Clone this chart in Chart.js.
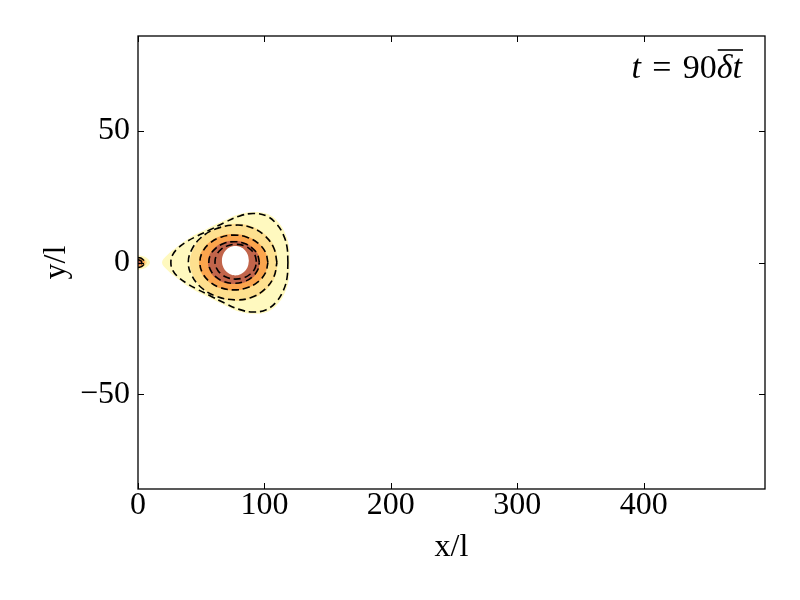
<!DOCTYPE html>
<html><head><meta charset="utf-8">
<script src="https://cdn.jsdelivr.net/npm/chart.js@4.4.0/dist/chart.umd.min.js"></script>
<style>html,body{margin:0;padding:0;background:#fff}</style>
</head><body>
<canvas id="c" width="800" height="600"></canvas>
<script>
// ---- data ----
const xTicks = [0, 100, 200, 300, 400];
const yTicks = [-50, 0, 50];
const xLimits = [0, 496];
const yLimits = [-86, 86];
const xLabel = 'x/l';
const yLabel = 'y/l';
const annotationParts = [['t', 'italic'], ['\u2004=\u200490', 'normal'], ['δt', 'italic']];

// filled contour regions (outer -> inner), points [x, y]
const fillPale = [[120.2,0],[119.5,6],[116.5,11],[111,15.3],[103,18.3],[92,19.2],[80,18.3],[68.5,16],[55,12.9],[42,9.7],[31,6],[23,2.8],[19,0],[23,-2.8],[31,-6],[42,-9.8],[55,-13],[68.5,-16.2],[80,-18.6],[92,-19.5],[103,-18.6],[111,-15.5],[116.5,-11.1],[119.5,-6],[120.2,0]];
const fillLight = [[110.7,0],[108.3,5.6],[101.2,10.4],[90.6,13.6],[78,14.7],[62.5,13.2],[50.5,9.6],[43.5,4.8],[41.1,0],[43.5,-4.8],[50.5,-9.5],[62.5,-13.1],[78,-14.6],[90.6,-13.6],[101.2,-10.4],[108.3,-5.6],[110.7,0]];
const fillOrange = [[102.8,0],[100.7,4.14],[94.8,7.64],[86,9.98],[75.5,10.8],[65,9.98],[56.2,7.64],[50.3,4.14],[48.2,0],[50.3,-4.1],[56.2,-7.5],[65,-9.8],[75.5,-10.6],[86,-9.8],[94.8,-7.5],[100.7,-4.1],[102.8,0]];
const fillBrown = [[96.4,0],[94.8,3.18],[90.4,5.87],[83.7,7.67],[75.9,8.3],[68,7.67],[61.3,5.87],[56.9,3.18],[55.3,0],[56.9,-3.18],[61.3,-5.87],[68,-7.67],[75.9,-8.2],[83.7,-7.67],[90.4,-5.87],[94.8,-3.18],[96.4,0]];
const fillHole = [[87.7,0.7],[86.9,2.84],[84.6,4.66],[81.1,5.87],[77.05,6.3],[73,5.87],[69.5,4.66],[67.2,2.84],[66.4,0.7],[67.2,-1.44],[69.5,-3.26],[73,-4.47],[77.05,-4.9],[81.1,-4.47],[84.6,-3.26],[86.9,-1.44],[87.7,0.7]];
// small blob at the left edge
const blobPale = [[0,2.8],[3.5,2.5],[7,1.7],[9.5,0],[7,-1.7],[3.5,-2.5],[0,-2.8]];
const blobLight = [[0,2.2],[3,1.9],[5.5,1.1],[7,0],[5.5,-1.1],[3,-1.9],[0,-2.2]];
const blobOrange = [[0,1.8],[2.5,1.5],[4.6,0.8],[5.5,0],[4.6,-0.8],[2.5,-1.5],[0,-1.8]];
const blobBrown = [[0,1.0],[1.8,0.8],[2.8,0],[1.8,-0.8],[0,-1.0]];

// dashed contour lines
const line1 = [[118.6,0],[117.9,5.8],[115,10.5],[109.5,14.7],[101.5,17.7],[91,18.6],[80,17.6],[68.5,15.2],[57,12.4],[47,10.1],[38.5,7.9],[31.5,5.4],[27.3,2.8],[26,0],[27.3,-2.8],[31.5,-5.4],[38.5,-7.9],[47,-10.2],[57,-12.6],[68.5,-15.4],[80,-17.8],[91,-18.8],[101.5,-17.9],[109.5,-14.9],[115,-10.6],[117.9,-5.8],[118.6,0]];
const line2 = [[109.9,0],[107.5,5.4],[100.4,10.1],[90,13.2],[77.5,14.2],[61.8,12.8],[49.5,9.3],[42.2,4.6],[39.8,0],[42.2,-4.6],[49.5,-9.3],[61.8,-12.8],[77.5,-14.2],[90,-13.2],[100.4,-10.1],[107.5,-5.4],[109.9,0]];
const line3 = [[102.8,0],[100.8,3.98],[94.9,7.35],[86.2,9.61],[75.9,10.4],[65.6,9.61],[56.9,7.35],[51,3.98],[49,0],[51,-3.98],[56.9,-7.35],[65.6,-9.61],[75.9,-10.4],[86.2,-9.61],[94.9,-7.35],[100.8,-3.98],[102.8,0]];
const line4 = [[96,0],[94.5,3.03],[90.1,5.59],[83.7,7.3],[76,7.9],[68.3,7.3],[61.9,5.59],[57.5,3.03],[56,0],[57.5,-3.03],[61.9,-5.59],[68.3,-7.3],[76,-7.9],[83.7,-7.3],[90.1,-5.59],[94.5,-3.03],[96,0]];
const line5 = [[93.7,0.3],[92.5,2.83],[88.9,4.97],[83.6,6.4],[77.3,6.9],[71,6.4],[65.7,4.97],[62.2,2.83],[60.9,0.3],[62.2,-2.23],[65.7,-4.37],[71,-5.8],[77.3,-6.3],[83.6,-5.8],[88.9,-4.37],[92.5,-2.23],[93.7,0.3]];
const blobLine1 = [[0,1.9],[3,1.5],[5.3,0],[3,-1.5],[0,-1.9]];
const blobLine2 = [[0,1.1],[2.2,0.7],[3,0],[2.2,-0.7],[0,-1.1]];

// ---- styles ----
const C_PALE = '#fff9bf', C_LIGHT = '#fee08f', C_ORANGE = '#fba54d', C_BROWN = '#c2654b';
const SERIF = '"Liberation Serif", "Times New Roman", serif';
const FS = 32;

const toXY = pts => pts.map(p => ({x: p[0], y: p[1]}));
function region(pts, color, order) {
  return {type: 'line', data: toXY(pts), backgroundColor: color, borderColor: 'rgba(0,0,0,0)',
    borderWidth: 0, fill: 'shape', tension: 0.4, pointRadius: 0, order};
}
function dashed(pts, order) {
  return {type: 'line', data: toXY(pts), borderColor: '#000', borderWidth: 1.6, borderDash: [7, 4],
    fill: false, tension: 0.4, pointRadius: 0, order};
}

const datasets = [
  region(fillPale, C_PALE, 20), region(fillLight, C_LIGHT, 19), region(fillOrange, C_ORANGE, 18),
  region(fillBrown, C_BROWN, 17), region(fillHole, '#ffffff', 16),
  region(blobPale, C_PALE, 15), region(blobLight, C_LIGHT, 14), region(blobOrange, C_ORANGE, 13),
  region(blobBrown, C_BROWN, 12),
  dashed(line1, 5), dashed(line2, 5), dashed(line3, 5), dashed(line4, 5), dashed(line5, 5),
  dashed(blobLine1, 5), dashed(blobLine2, 5)
];

const framePlugin = {
  id: 'frame',
  afterDatasetsDraw(chart) {
    const {ctx, chartArea: a, scales: {x, y}} = chart;
    ctx.save();
    ctx.strokeStyle = '#000';
    ctx.lineWidth = 1.3;
    ctx.strokeRect(a.left, a.top, a.right - a.left, a.bottom - a.top);
    ctx.lineWidth = 1;
    const tl = 6;
    ctx.beginPath();
    xTicks.forEach(v => {
      const px = Math.round(x.getPixelForValue(v)) + 0.5;
      ctx.moveTo(px, a.bottom); ctx.lineTo(px, a.bottom - tl);
      ctx.moveTo(px, a.top); ctx.lineTo(px, a.top + tl);
    });
    yTicks.forEach(v => {
      const py = Math.round(y.getPixelForValue(v)) + 0.5;
      ctx.moveTo(a.left, py); ctx.lineTo(a.left + tl, py);
      ctx.moveTo(a.right, py); ctx.lineTo(a.right - tl, py);
    });
    ctx.stroke();
    ctx.restore();
  },
  afterDraw(chart) {
    const {ctx} = chart;
    const size = 34, rightX = 742, base = 78;
    ctx.save();
    ctx.fillStyle = '#000';
    ctx.textBaseline = 'alphabetic';
    const widths = annotationParts.map(([t, st]) => { ctx.font = st + ' ' + size + 'px ' + SERIF; return ctx.measureText(t).width; });
    let xx = rightX - widths.reduce((s, w) => s + w, 0);
    annotationParts.forEach(([t, st], i) => {
      ctx.font = st + ' ' + size + 'px ' + SERIF;
      ctx.fillText(t, xx, base);
      if (i === annotationParts.length - 1) {
        ctx.strokeStyle = '#000'; ctx.lineWidth = 1.6;
        ctx.beginPath(); ctx.moveTo(xx + 1, base - 28); ctx.lineTo(xx + widths[i] + 1, base - 28); ctx.stroke();
      }
      xx += widths[i];
    });
    ctx.restore();
  }
};

new Chart(document.getElementById('c'), {
  type: 'line',
  data: {datasets},
  options: {
    responsive: false, animation: false, devicePixelRatio: 1,
    layout: {padding: {left: 0, top: 36, right: 35, bottom: 0}},
    plugins: {legend: {display: false}, tooltip: {enabled: false}},
    scales: {
      x: {
        type: 'linear', min: xLimits[0], max: xLimits[1],
        grid: {display: false, drawTicks: false}, border: {display: false},
        afterBuildTicks: s => { s.ticks = xTicks.map(v => ({value: v})); },
        afterFit: s => { s.height = 111; },
        ticks: {color: '#000', font: {family: SERIF, size: FS, lineHeight: 1}, padding: 1, maxRotation: 0,
          callback: v => String(v)},
        title: {display: true, text: xLabel, color: '#000', font: {family: SERIF, size: FS, lineHeight: 1.2},
          padding: {top: 0, bottom: 33}}
      },
      y: {
        type: 'linear', min: yLimits[0], max: yLimits[1],
        grid: {display: false, drawTicks: false}, border: {display: false},
        afterBuildTicks: s => { s.ticks = yTicks.map(v => ({value: v})); },
        afterFit: s => { s.width = 138; },
        ticks: {color: '#000', font: {family: SERIF, size: FS, lineHeight: 1}, padding: 8,
          callback: v => (v < 0 ? '\u2212' + Math.abs(v) : String(v))},
        title: {display: true, text: yLabel, color: '#000', font: {family: SERIF, size: FS, lineHeight: 1.2},
          padding: {top: 37, bottom: 0}}
      }
    }
  },
  plugins: [framePlugin]
});
</script>
</body></html>
